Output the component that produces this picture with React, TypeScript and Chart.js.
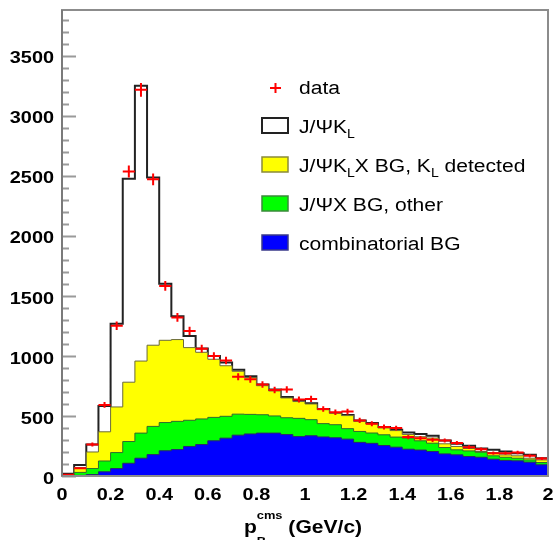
import { useEffect, useRef } from 'react';
import Chart from 'chart.js/auto';

// ---- data (bin width 0.05 GeV/c, 40 bins from 0 to 2) ----
const BIN_WIDTH = 0.05;
const X_MIN = 0;
const X_MAX = 2;
const Y_MAX = 3880;

// cumulative stack heights
const totalStack = [18, 92, 262, 582, 1268, 2475, 3250, 2485, 1600, 1330, 1165, 1062, 1000, 945, 885, 830, 762, 720, 658, 632, 605, 558, 525, 508, 463, 441, 408, 385, 363, 349, 335, 296, 268, 251, 229, 218, 204, 190, 176, 148];
const yellowStack = [8, 70, 200, 368, 575, 781, 957, 1089, 1130, 1136, 1069, 1030, 972, 918, 872, 820, 752, 708, 650, 620, 600, 552, 522, 503, 455, 434, 400, 378, 346, 327, 316, 268, 246, 229, 204, 195, 176, 168, 148, 134];
const greenStack = [3, 30, 62, 125, 195, 287, 357, 413, 445, 455, 464, 475, 488, 497, 515, 513, 510, 500, 485, 480, 469, 436, 427, 394, 371, 358, 343, 324, 315, 293, 273, 237, 218, 209, 198, 168, 156, 148, 134, 112];
const blueStack = [1, 5, 12, 35, 62, 106, 148, 178, 210, 220, 246, 262, 293, 315, 340, 350, 357, 357, 345, 328, 335, 325, 318, 307, 280, 272, 254, 240, 223, 216, 204, 184, 176, 162, 156, 140, 130, 126, 115, 93];
const dataCounts = [10, 65, 262, 592, 1252, 2535, 3215, 2470, 1583, 1320, 1208, 1060, 999, 962, 826, 805, 762, 716, 721, 637, 642, 558, 530, 536, 463, 436, 408, 399, 324, 315, 301, 296, 274, 240, 223, 190, 190, 196, 168, 146];

const xTickValues = [0, 0.2, 0.4, 0.6, 0.8, 1, 1.2, 1.4, 1.6, 1.8, 2];
const xTickLabels = ['0', '0.2', '0.4', '0.6', '0.8', '1', '1.2', '1.4', '1.6', '1.8', '2'];
const yTickValues = [0, 500, 1000, 1500, 2000, 2500, 3000, 3500];
const yTickLabels = ['0', '500', '1000', '1500', '2000', '2500', '3000', '3500'];

const FONT = '"Liberation Sans", Arial, Helvetica, sans-serif';
const SX = 1.17; // horizontal stretch of the reference lettering

function stepPoints(vals: number[]) {
  const pts = vals.map((v, i) => ({ x: i * BIN_WIDTH, y: v }));
  pts.push({ x: vals.length * BIN_WIDTH, y: vals[vals.length - 1] });
  return pts;
}
function centerPoints(vals: number[]) {
  return vals.map((v, i) => ({ x: (i + 0.5) * BIN_WIDTH, y: v }));
}

type Seg = { t: string; font: string; dy?: number };

function drawText(ctx: CanvasRenderingContext2D, t: string, x: number, y: number, font: string, align: CanvasTextAlign, baseline: CanvasTextBaseline) {
  ctx.save();
  ctx.translate(x, y);
  ctx.scale(SX, 1);
  ctx.font = font;
  ctx.textAlign = align;
  ctx.textBaseline = baseline;
  ctx.fillText(t, 0, 0);
  ctx.restore();
}

function measure(ctx: CanvasRenderingContext2D, t: string, font: string) {
  ctx.save();
  ctx.font = font;
  const w = ctx.measureText(t).width * SX;
  ctx.restore();
  return w;
}

function drawRich(ctx: CanvasRenderingContext2D, segs: Seg[], x: number, y: number) {
  let cx = x;
  for (const s of segs) {
    drawText(ctx, s.t, cx, y + (s.dy || 0), s.font, 'left', 'alphabetic');
    cx += measure(ctx, s.t, s.font);
  }
  return cx;
}

const framePlugin = {
  id: 'rootFrame',
  beforeDatasetsDraw(chart: any) {
    const ctx = chart.ctx as CanvasRenderingContext2D;
    const { left } = chart.chartArea;
    const y = chart.scales.y;
    ctx.save();
    ctx.strokeStyle = '#9a9a9a';
    ctx.lineWidth = 2;
    ctx.beginPath();
    for (let v = 0; v <= Y_MAX; v += 100) {
      const py = Math.round(y.getPixelForValue(v)) + 0.5;
      const len = v % 500 === 0 ? 14 : 7;
      ctx.moveTo(left, py);
      ctx.lineTo(left + len, py);
    }
    ctx.stroke();
    ctx.restore();
  },
  afterDatasetsDraw(chart: any) {
    const ctx = chart.ctx as CanvasRenderingContext2D;
    const { left, right, top, bottom } = chart.chartArea;
    const xs = chart.scales.x;
    const ys = chart.scales.y;
    // data error bars (red crosses)
    const meta = chart.getDatasetMeta(0);
    ctx.save();
    ctx.strokeStyle = '#ff0000';
    ctx.lineWidth = 2;
    ctx.beginPath();
    meta.data.forEach((pt: any, i: number) => {
      const v = dataCounts[i];
      const cx = (i + 0.5) * BIN_WIDTH;
      const x0 = xs.getPixelForValue(cx - BIN_WIDTH / 2);
      const x1 = xs.getPixelForValue(cx + BIN_WIDTH / 2);
      const err = Math.sqrt(v);
      const y0 = ys.getPixelForValue(v - err);
      const y1 = ys.getPixelForValue(v + err);
      ctx.moveTo(x0, pt.y);
      ctx.lineTo(x1, pt.y);
      ctx.moveTo(pt.x, y0);
      ctx.lineTo(pt.x, y1);
    });
    ctx.stroke();
    ctx.restore();

    // frame
    ctx.save();
    ctx.strokeStyle = '#8c8c8c';
    ctx.lineWidth = 2;
    ctx.strokeRect(left, top, right - left, bottom - top);
    ctx.strokeStyle = '#7a7a7a';
    ctx.beginPath();
    ctx.moveTo(left, top);
    ctx.lineTo(left, bottom);
    ctx.stroke();
    ctx.restore();
  },
  afterDraw(chart: any) {
    const ctx = chart.ctx as CanvasRenderingContext2D;
    const xs = chart.scales.x;
    const ys = chart.scales.y;
    const { left, right } = chart.chartArea;
    ctx.save();
    ctx.fillStyle = '#000';
    const tickFont = `bold 17px ${FONT}`;
    yTickValues.forEach((v, i) => {
      drawText(ctx, yTickLabels[i], left - 8, ys.getPixelForValue(v) + 3, tickFont, 'right', 'middle');
    });
    xTickValues.forEach((v, i) => {
      drawText(ctx, xTickLabels[i], xs.getPixelForValue(v), 500, tickFont, 'center', 'alphabetic');
    });

    // axis title  p_B^cms (GeV/c)
    const big = `bold 18px ${FONT}`;
    const small = `bold 11px ${FONT}`;
    const wP = measure(ctx, 'p', big);
    const wSup = Math.max(measure(ctx, 'cms', small), measure(ctx, 'B', small));
    const wRest = measure(ctx, ' (GeV/c)', big);
    const total = wP + wSup + wRest;
    let tx = (left + right) / 2 - total / 2 - 2;
    const tb = 533;
    drawText(ctx, 'p', tx, tb, big, 'left', 'alphabetic');
    tx += wP;
    drawText(ctx, 'cms', tx, tb - 14, small, 'left', 'alphabetic');
    drawText(ctx, 'B', tx, tb + 12, small, 'left', 'alphabetic');
    tx += wSup;
    drawText(ctx, ' (GeV/c)', tx, tb, big, 'left', 'alphabetic');

    // legend
    const lf = `18px ${FONT}`;
    const sf = `12px ${FONT}`;
    const textX = 299;
    const bx = 262, bw = 26, bh = 15;
    const rows = [94, 133, 172, 211, 250];
    ctx.strokeStyle = '#ff0000';
    ctx.lineWidth = 2;
    ctx.beginPath();
    ctx.moveTo(270, 88); ctx.lineTo(281, 88);
    ctx.moveTo(275.5, 83); ctx.lineTo(275.5, 93);
    ctx.stroke();
    drawRich(ctx, [{ t: 'data', font: lf }], textX, rows[0]);

    const boxes: [string, string, number][] = [
      ['#ffffff', '#222222', 2],
      ['#ffff00', '#8a8a3a', 1.5],
      ['#00ff00', '#3a8a3a', 1.5],
      ['#0000ff', '#3a3a8a', 1.5],
    ];
    boxes.forEach(([fill, stroke, lw], k) => {
      const by = rows[k + 1] - bh;
      ctx.fillStyle = fill;
      ctx.fillRect(bx, by, bw, bh);
      ctx.strokeStyle = stroke;
      ctx.lineWidth = lw;
      ctx.strokeRect(bx, by, bw, bh);
    });
    ctx.fillStyle = '#000';
    drawRich(ctx, [{ t: 'J/ΨK', font: lf }, { t: 'L', font: sf, dy: 5 }], textX, rows[1]);
    drawRich(ctx, [
      { t: 'J/ΨK', font: lf },
      { t: 'L', font: sf, dy: 5 },
      { t: 'X BG, K', font: lf },
      { t: 'L', font: sf, dy: 5 },
      { t: ' detected', font: lf },
    ], textX, rows[2]);
    drawRich(ctx, [{ t: 'J/ΨX BG, other', font: lf }], textX, rows[3]);
    drawRich(ctx, [{ t: 'combinatorial BG', font: lf }], textX, rows[4]);
    ctx.restore();
  },
};

export default function App() {
  const ref = useRef<HTMLCanvasElement | null>(null);
  useEffect(() => {
    if (!ref.current) return;
    const stepStyle = {
      stepped: 'before' as const,
      pointRadius: 0,
      pointHoverRadius: 0,
      fill: 'origin' as const,
      tension: 0,
    };
    const chart = new Chart(ref.current, {
      type: 'line',
      data: {
        datasets: [
          {
            label: 'data',
            data: centerPoints(dataCounts),
            showLine: false,
            pointRadius: 0,
            pointHoverRadius: 0,
            borderColor: '#ff0000',
            order: 0,
          },
          {
            label: 'combinatorial BG',
            data: stepPoints(blueStack),
            ...stepStyle,
            backgroundColor: '#0000ff',
            borderColor: '#2a2a6a',
            borderWidth: 1,
            order: 1,
          },
          {
            label: 'J/ΨX BG, other',
            data: stepPoints(greenStack),
            ...stepStyle,
            backgroundColor: '#00ff00',
            borderColor: '#2f6a2f',
            borderWidth: 1,
            order: 2,
          },
          {
            label: 'J/ΨK_L X BG, K_L detected',
            data: stepPoints(yellowStack),
            ...stepStyle,
            backgroundColor: '#ffff00',
            borderColor: '#6a6a3a',
            borderWidth: 1,
            order: 3,
          },
          {
            label: 'J/ΨK_L',
            data: stepPoints(totalStack),
            ...stepStyle,
            backgroundColor: '#ffffff',
            borderColor: '#222222',
            borderWidth: 2,
            order: 4,
          },
        ],
      },
      options: {
        responsive: false,
        animation: false,
        devicePixelRatio: 1,
        events: [],
        layout: { padding: { left: 62, right: 10, top: 10, bottom: 64 } },
        plugins: {
          legend: { display: false },
          tooltip: { enabled: false },
        },
        scales: {
          x: { type: 'linear', min: X_MIN, max: X_MAX, display: false },
          y: { type: 'linear', min: 0, max: Y_MAX, display: false },
        },
      },
      plugins: [framePlugin],
    });
    return () => chart.destroy();
  }, []);
  return (
    <div style={{ position: 'absolute', left: 0, top: 0, width: 558, height: 540, background: '#ffffff' }}>
      <canvas ref={ref} width={558} height={540} style={{ display: 'block' }} />
    </div>
  );
}
